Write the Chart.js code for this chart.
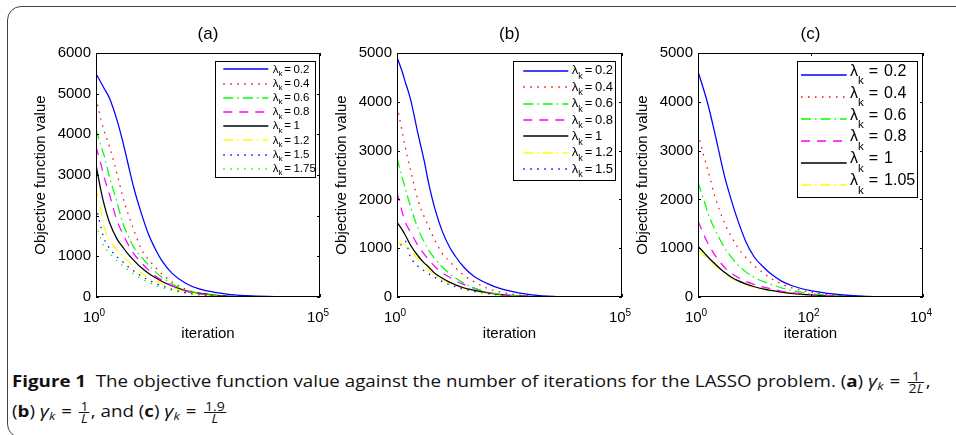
<!DOCTYPE html>
<html><head><meta charset="utf-8">
<script src="https://cdn.jsdelivr.net/npm/chart.js@4.4.1/dist/chart.umd.min.js"></script>
<style>
html,body{margin:0;padding:0;background:#fff;width:956px;height:435px;overflow:hidden;position:relative;}
#frame{position:absolute;left:7px;top:6px;width:1000px;height:432px;border:1.5px solid #444;border-radius:14px;box-sizing:border-box;}
canvas{position:absolute;top:0;}
.cap{position:absolute;left:12px;white-space:nowrap;font-family:"Open Sans",sans-serif;font-size:16px;line-height:30px;color:#111;transform-origin:0 0;}
.cap b{font-weight:700;}
.m{font-style:italic;font-size:17px;}
.eq{margin:0 1px;}
.sub{font-size:11px;font-style:italic;vertical-align:-3px;line-height:0;}
.fr{display:inline-block;vertical-align:-5.5px;text-align:center;font-size:12px;line-height:11px;margin:0 1px;}
.fr>span{display:block;padding:0 1px;}
.fr>.n{border-bottom:1px solid #111;}
</style></head>
<body>
<div id="frame"></div>
<canvas id="ca" width="340" height="345" style="left:0px"></canvas>
<canvas id="cb" width="340" height="345" style="left:301px"></canvas>
<canvas id="cc" width="340" height="345" style="left:602px"></canvas>
<div class="cap" id="l1" style="top:366px"><b>Figure 1</b>&nbsp; The objective function value against the number of iterations for the LASSO problem. (<b>a</b>) <span class="m">γ</span><span class="sub">k</span> <span class="eq">=</span> <span class="fr"><span class="n">1</span><span class="d">2<span class="m" style="font-size:12px">L</span></span></span>,</div>
<div class="cap" id="l2" style="top:396px">(<b>b</b>) <span class="m">γ</span><span class="sub">k</span> <span class="eq">=</span> <span class="fr"><span class="n">1</span><span class="d"><span class="m" style="font-size:12px">L</span></span></span>, and (<b>c</b>) <span class="m">γ</span><span class="sub">k</span> <span class="eq">=</span> <span class="fr"><span class="n">1.9</span><span class="d"><span class="m" style="font-size:12px">L</span></span></span></div>
<script>
// ---------- data ----------
const xA = [1, 1.3, 1.5, 2, 3, 4, 5, 7, 10, 15, 20, 30, 50, 100, 200, 500, 1000, 3000, 10000, 30000];
const lambdaA = ['0.2', '0.4', '0.6', '0.8', '1', '1.2', '1.5', '1.75'];
const a_02  = [5490,5270,5140,4890,4320,3800,3350,2680,2100,1530,1230,880,580,340,200,105,60,25,8,2];
const a_04  = [4900,4350,4100,3700,3000,2450,2100,1650,1200,920,760,560,370,190,90,35,15,4,1,null];
const a_06  = [4120,3700,3500,2950,2300,1800,1550,1220,1000,780,640,480,320,170,90,35,15,4,1,null];
const a_08  = [3700,3250,2970,2520,1850,1550,1330,1060,860,660,540,410,280,145,75,30,12,3,1,null];
const a_1   = [3250,2600,2300,1830,1410,1220,1080,900,730,580,490,380,270,160,95,42,18,5,null,null];
const a_12  = [2700,2100,1750,1400,1150,1000,900,740,600,480,410,320,230,130,75,33,15,4,null,null];
const a_15  = [2230,1700,1450,1200,980,860,760,640,520,410,350,270,190,110,60,27,12,3,null,null];
const a_175 = [1800,1400,1250,1080,880,760,680,560,450,360,300,230,165,95,50,22,10,2,null,null];

const xB = [1, 1.3, 1.5, 2, 3, 4, 5, 7, 10, 15, 20, 30, 50, 100, 200, 500, 1000, 3000, 10000, 30000];
const lambdaB = ['0.2', '0.4', '0.6', '0.8', '1', '1.2', '1.5'];
const b_02 = [4920,4620,4430,4050,3300,2800,2350,1800,1360,1010,830,620,430,280,170,85,45,12,3,1];
const b_04 = [3900,3400,3100,2600,1950,1650,1450,1150,900,720,600,450,320,180,100,40,18,5,1,null];
const b_06 = [2850,2450,2250,1850,1380,1130,970,780,620,470,390,290,190,100,55,22,10,3,null,null];
const b_08 = [2150,1750,1550,1330,1040,880,770,620,500,400,330,260,185,100,55,22,10,3,null,null];
const b_1  = [1530,1380,1280,1060,830,700,620,480,390,300,250,190,140,90,50,22,10,3,null,null];
const b_12 = [1120,1090,1080,950,760,640,560,450,360,280,240,180,130,80,45,20,9,2,null,null];
const b_15 = [930,1100,1150,820,620,540,480,400,320,250,210,160,115,70,40,18,8,2,null,null];

const xC = [1, 1.3, 1.5, 2, 3, 4, 5, 7, 10, 15, 20, 30, 50, 100, 200, 500, 1000, 3000, 6000];
const lambdaC = ['0.2', '0.4', '0.6', '0.8', '1', '1.05'];
const c_02 = [4620,4200,3950,3350,2450,1950,1600,1150,820,600,470,330,220,130,75,32,15,4,null];
const c_04 = [3350,2850,2600,2060,1500,1220,1030,820,640,480,380,270,175,100,55,22,10,3,1];
const c_06 = [2350,1950,1720,1380,1000,800,670,520,400,310,260,190,125,70,40,16,8,2,1];
const c_08 = [1560,1250,1100,860,600,480,410,320,260,200,170,120,85,50,28,12,5,1,null];
const c_1  = [1040,900,820,680,500,400,340,270,210,160,135,100,70,42,24,10,4,1,null];
const c_105= [970,840,770,650,480,385,325,260,200,150,128,95,66,40,22,9,4,1,null];

const xTicksA = [1, 100000];
const xTicksB = [1, 100000];
const xTicksC = [1, 100, 10000];
const yStep = 1000;

// ---------- styles ----------
const FF = '"Liberation Sans", Arial, Helvetica, sans-serif';
Chart.defaults.font.family = FF;
const DOT = [1.5, 5.5], DASHDOT = [10, 4, 1.5, 4], DASH = [9, 7];
const styles = [
  {c:'#0000ff', d:[]}, {c:'#ff0000', d:DOT}, {c:'#00ff00', d:DASHDOT}, {c:'#ff00ff', d:DASH},
  {c:'#000000', d:[]}, {c:'#ffff00', d:DASHDOT}, {c:'#0000ff', d:DOT}, {c:'#00ff00', d:DOT}
];

const decor = {
  id: 'decor',
  afterDraw(chart, _args, o) {
    const {ctx, chartArea: a} = chart;
    const xs = chart.scales.x, ys = chart.scales.y;
    ctx.save();
    ctx.setLineDash([]);
    ctx.strokeStyle = '#000'; ctx.lineWidth = 1;
    const L0 = Math.round(a.left), T0 = Math.round(a.top), R0 = Math.round(a.right), B0 = Math.round(a.bottom);
    ctx.strokeRect(L0 + 0.5, T0 + 0.5, R0 - L0 - 1, B0 - T0 - 1);
    ctx.beginPath();
    ys.ticks.forEach(t => {
      const p = Math.round(ys.getPixelForValue(t.value)) + 0.5;
      ctx.moveTo(L0, p); ctx.lineTo(L0 + 3, p);
      ctx.moveTo(R0 - 3, p); ctx.lineTo(R0, p);
    });
    o.xTicks.forEach(v => {
      const p = Math.round(xs.getPixelForValue(v)) + 0.5;
      ctx.moveTo(p, B0); ctx.lineTo(p, B0 - 3);
      ctx.moveTo(p, T0); ctx.lineTo(p, T0 + 3);
    });
    ctx.stroke();
    ctx.fillStyle = '#000'; ctx.textBaseline = 'alphabetic'; ctx.textAlign = 'left';
    o.xTicks.forEach(v => {
      const p = xs.getPixelForValue(v);
      const e = String(Math.round(Math.log10(v)));
      ctx.font = '15px ' + FF; const w1 = ctx.measureText('10').width;
      ctx.font = '10px ' + FF; const w2 = ctx.measureText(e).width;
      const x0 = p - (w1 + w2) / 2 - 2;
      ctx.font = '15px ' + FF; ctx.fillText('10', x0, a.bottom + 25);
      ctx.font = '10px ' + FF; ctx.fillText(e, x0 + w1, a.bottom + 18.5);
    });
    ctx.textAlign = 'center';
    ctx.font = '15px ' + FF;
    ctx.fillText('iteration', (a.left + a.right) / 2, a.bottom + 41);
    ctx.font = '17px ' + FF;
    ctx.fillText(o.title, (a.left + a.right) / 2, a.top - 14);
    // legend
    const L = o.legend;
    const bx = Math.round(a.right - L.right), by = Math.round(a.top + L.top);
    ctx.fillStyle = '#fff'; ctx.fillRect(bx, by, L.w, L.h);
    ctx.strokeStyle = '#000'; ctx.lineWidth = 1; ctx.strokeRect(bx + 0.5, by + 0.5, L.w - 1, L.h - 1);
    ctx.textAlign = 'left';
    chart.data.datasets.forEach((ds, i) => {
      const st = styles[i];
      const ry = by + L.rowTop + i * L.rowGap;
      const ly = Math.round(ry);
      ctx.strokeStyle = st.c; ctx.setLineDash(st.d); ctx.lineWidth = 1.4;
      ctx.beginPath(); ctx.moveTo(bx + L.x0, ly); ctx.lineTo(bx + L.x1, ly); ctx.stroke();
      ctx.setLineDash([]);
      ctx.fillStyle = '#000';
      let tx = bx + L.tx; const base = ry + L.baseOff;
      ctx.font = L.f + 'px ' + FF; ctx.fillText('λ', tx, base); tx += ctx.measureText('λ').width;
      ctx.font = L.sf + 'px ' + FF; ctx.fillText('k', tx, base + L.sd); tx += ctx.measureText('k').width + L.g1;
      ctx.font = L.f + 'px ' + FF; ctx.fillText('=', tx, base); tx += ctx.measureText('=').width + L.g2;
      ctx.fillText(ds.label, tx, base);
    });
    ctx.restore();
  }
};

function makeChart(id, xs, labels, series, yMax, xMax, xTicks, title, legend, padRight) {
  const datasets = series.map((ys, i) => ({
    label: labels[i],
    data: xs.map((x, j) => ({x: x, y: ys[j]})).filter(p => p.y !== null),
    borderColor: styles[i].c,
    borderDash: styles[i].d,
    borderWidth: 1.25,
    pointRadius: 0,
    fill: false,
    cubicInterpolationMode: 'monotone'
  }));
  return new Chart(document.getElementById(id), {
    type: 'line',
    data: {datasets},
    plugins: [decor],
    options: {
      responsive: false, animation: false,
      layout: {padding: {left: 0, top: 53, right: padRight, bottom: 48}},
      plugins: {legend: {display: false}, tooltip: {enabled: false}, decor: {xTicks, title, legend}},
      scales: {
        x: {type: 'logarithmic', min: 1, max: xMax, display: false},
        y: {
          type: 'linear', min: 0, max: yMax,
          afterFit: s => { s.width = 96; },
          ticks: {stepSize: yStep, color: '#000', font: {size: 15}, padding: 5, callback: v => String(v)},
          grid: {display: false, drawTicks: false},
          border: {display: false},
          title: {display: true, text: 'Objective function value', color: '#000', font: {size: 15}, padding: {top: 32, bottom: 0}}
        }
      }
    }
  });
}

makeChart('ca', xA, lambdaA, [a_02, a_04, a_06, a_08, a_1, a_12, a_15, a_175], 6000, 100000, xTicksA, '(a)',
  {right: 105, top: 8, w: 101, h: 117, rowTop: 8.3, rowGap: 14.2, x0: 8.3, x1: 53.3, tx: 57.7, f: 11.5, sf: 8, sd: 3.5, baseOff: 3.2, g1: 1.8, g2: 2.5}, 20);
makeChart('cb', xB, lambdaB, [b_02, b_04, b_06, b_08, b_1, b_12, b_15], 5000, 100000, xTicksB, '(b)',
  {right: 109, top: 8, w: 103, h: 120, rowTop: 9.7, rowGap: 16.4, x0: 10.3, x1: 55.3, tx: 58.7, f: 13, sf: 9, sd: 4.7, baseOff: 3.6, g1: 2, g2: 2.7}, 19);
makeChart('cc', xC, lambdaC, [c_02, c_04, c_06, c_08, c_1, c_105], 5000, 10000, xTicksC, '(c)',
  {right: 126, top: 8, w: 121, h: 137, rowTop: 14, rowGap: 21.9, x0: 4, x1: 49.7, tx: 53, f: 16, sf: 11.5, sd: 8.6, baseOff: 0.7, g1: 5, g2: 6}, 19);

// caption fit
const l1 = document.getElementById('l1'), l2 = document.getElementById('l2');
const s = 918 / l1.offsetWidth;
l1.style.transform = 'scaleX(' + s + ')';
l2.style.transform = 'scaleX(' + s + ')';
</script>
</body></html>
